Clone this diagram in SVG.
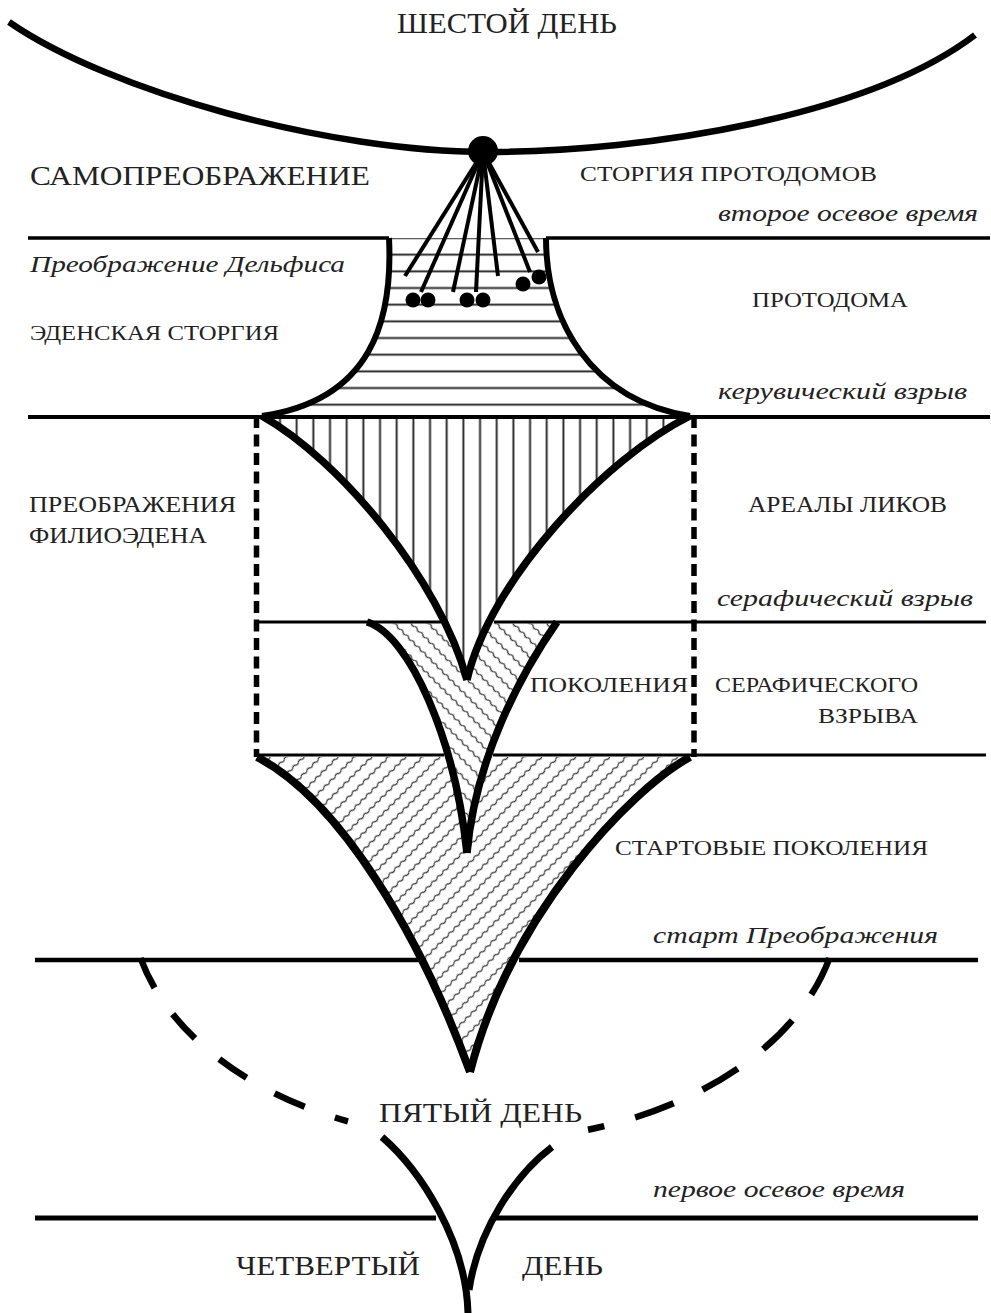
<svg xmlns="http://www.w3.org/2000/svg" width="991" height="1313" viewBox="0 0 991 1313">
<style>
.t{font-family:"Liberation Serif","DejaVu Serif",serif;fill:#222}
.i{font-style:italic}
.ln{fill:none;stroke:#000;stroke-linecap:butt}
.wh{fill:#fff}
</style>
<defs>
<pattern id="hatchH" patternUnits="userSpaceOnUse" x="0" y="229.67" width="20" height="16.67"><line x1="0" y1="8.33" x2="20" y2="8.33" stroke="#222" stroke-width="1.9"/></pattern>
<pattern id="hatchV" patternUnits="userSpaceOnUse" x="255" y="0" width="16.67" height="20"><line x1="8.33" y1="0" x2="8.33" y2="20" stroke="#222" stroke-width="1.9"/></pattern>
<pattern id="waveA" patternUnits="userSpaceOnUse" width="8" height="12" patternTransform="rotate(-45)"><path d="M0,6 Q2,4.4 4,6 T8,6" fill="none" stroke="#333" stroke-width="1.3"/></pattern>
<pattern id="waveB" patternUnits="userSpaceOnUse" width="8" height="12" patternTransform="rotate(45)"><path d="M0,6 Q2,4.4 4,6 T8,6" fill="none" stroke="#333" stroke-width="1.3"/></pattern>
</defs>
<rect width="991" height="1313" fill="#fff"/>

<g id="funnel-big-fill">
<path class="wh" d="M257,757 C340,800 420,935 470,1072 C510,915 630,790 690,757 Z"/>
<path fill="url(#waveA)" d="M257,757 C340,800 420,935 470,1072 C510,915 630,790 690,757 Z"/>
</g>
<g id="cusp-second-fill">
<path class="wh" d="M367,623.5 C410,636 455,740 467,853 C475,760 520,675 557,623.5 Z"/>
<path fill="url(#waveB)" d="M367,623.5 C410,636 455,740 467,853 C475,760 520,675 557,623.5 Z"/>
</g>
<g id="funnel-upper-fill">
<path class="wh" d="M389,238 C393,320 372,400 262,416 L690,416 C590,400 546,320 546,238 Z"/>
<path fill="url(#hatchH)" d="M389,238 C393,320 372,400 262,416 L690,416 C590,400 546,320 546,238 Z"/>
</g>
<g id="cusp-middle-fill">
<path class="wh" d="M262,417 C340,460 440,580 467,680 C490,580 605,458 690,417 Z"/>
<path fill="url(#hatchV)" d="M262,417 C340,460 440,580 467,680 C490,580 605,458 690,417 Z"/>
</g>

<g id="time-lines" class="ln">
<path stroke-width="3.5" d="M28,238 H389 M546,238 H990"/>
<path stroke-width="4" d="M28,417 H990"/>
<path stroke-width="3.2" d="M257,622 H441 M494,622 H986"/>
<path stroke-width="3.2" d="M257,755 H444 M493,755 H986"/>
<path stroke-width="4.5" d="M35,960 H421 M519,960 H978"/>
<path stroke-width="5" d="M35,1218 H436 M493,1218 H978"/>
</g>

<g id="dashed-frame" class="ln" stroke-width="5.5" stroke-dasharray="12 6.5">
<path d="M256.5,416 V757"/>
<path d="M694,416 V757"/>
</g>

<g id="funnel-big" class="ln" stroke-width="8">
<path d="M257,757 C340,800 420,935 470,1072"/>
<path d="M690,757 C630,790 510,915 470,1072"/>
</g>
<g id="cusp-second" class="ln" stroke-width="7.5">
<path d="M367,622 C410,635 455,740 467,853"/>
<path d="M557,622 C520,675 475,760 467,853"/>
</g>
<g id="cusp-middle" class="ln" stroke-width="7.5">
<path d="M262,416 C340,460 440,580 467,680"/>
<path d="M690,416 C605,458 490,580 467,680"/>
</g>
<g id="funnel-upper" class="ln" stroke-width="6">
<path d="M389,238 C393,320 372,400 262,416"/>
<path d="M546,238 C546,320 590,400 690,416"/>
</g>

<g id="top-arc">
<path class="ln" stroke-width="6.5" d="M9,22 C110,92 330,152 487,152 C650,152 870,115 975,35"/>
<circle cx="483" cy="151" r="15" fill="#000"/>
</g>

<g id="fan" class="ln" stroke-width="4">
<path d="M483,152 L405,276"/>
<path d="M483,152 L421,292"/>
<path d="M483,152 L453,292"/>
<path d="M483,152 L476,292"/>
<path d="M483,152 L498,276"/>
<path d="M483,152 L530,272"/>
<path d="M483,152 L538,252"/>
</g>
<g id="protodoma-dots" fill="#000">
<circle cx="413" cy="300" r="7.5"/>
<circle cx="428" cy="300" r="7.5"/>
<circle cx="467" cy="300" r="7.5"/>
<circle cx="483" cy="300" r="7.5"/>
<circle cx="523" cy="284" r="7.5"/>
<circle cx="539" cy="277" r="7.5"/>
</g>

<g id="dashed-arc" class="ln" stroke-width="6.5">
<path stroke-dasharray="33 32" d="M140.5,958 A355,240 0 0 0 348,1121.4"/>
<path stroke-dasharray="41 32" d="M829.5,958 A355,240 0 0 1 588,1129.7"/>
</g>

<g id="bottom-y" class="ln" stroke-width="7">
<path d="M382,1137 C420,1170 466,1240 468,1313"/>
<path d="M552,1147 C515,1175 478,1230 469,1290"/>
</g>

<g id="label-sixth-day"><text class="t" x="397" y="33" font-size="29" textLength="220" lengthAdjust="spacingAndGlyphs">ШЕСТОЙ ДЕНЬ</text></g>
<g id="label-self"><text class="t" x="30" y="185" font-size="28" textLength="340" lengthAdjust="spacingAndGlyphs">САМОПРЕОБРАЖЕНИЕ</text></g>
<g id="label-storgia-proto"><text class="t" x="580" y="181" font-size="22" textLength="297" lengthAdjust="spacingAndGlyphs">СТОРГИЯ ПРОТОДОМОВ</text></g>
<g id="label-axis2"><text class="t i" x="718" y="221" font-size="24" textLength="260" lengthAdjust="spacingAndGlyphs">второе осевое время</text></g>
<g id="label-delphis"><text class="t i" x="30" y="272" font-size="24" textLength="315" lengthAdjust="spacingAndGlyphs">Преображение Дельфиса</text></g>
<g id="label-protodoma"><text class="t" x="752" y="307" font-size="22" textLength="156" lengthAdjust="spacingAndGlyphs">ПРОТОДОМА</text></g>
<g id="label-eden"><text class="t" x="30" y="340" font-size="22" textLength="249" lengthAdjust="spacingAndGlyphs">ЭДЕНСКАЯ СТОРГИЯ</text></g>
<g id="label-cherub"><text class="t i" x="718" y="399" font-size="24" textLength="249" lengthAdjust="spacingAndGlyphs">керувический взрыв</text></g>
<g id="label-filioeden">
<text class="t" x="29" y="512" font-size="23" textLength="207" lengthAdjust="spacingAndGlyphs">ПРЕОБРАЖЕНИЯ</text>
<text class="t" x="29" y="543" font-size="23" textLength="178" lengthAdjust="spacingAndGlyphs">ФИЛИОЭДЕНА</text>
</g>
<g id="label-areals"><text class="t" x="748" y="512" font-size="23" textLength="199" lengthAdjust="spacingAndGlyphs">АРЕАЛЫ ЛИКОВ</text></g>
<g id="label-seraph"><text class="t i" x="717" y="606" font-size="24" textLength="256" lengthAdjust="spacingAndGlyphs">серафический взрыв</text></g>
<g id="label-generations-seraph">
<text class="t" x="530" y="692" font-size="22" textLength="158" lengthAdjust="spacingAndGlyphs">ПОКОЛЕНИЯ</text>
<text class="t" x="715" y="692" font-size="22" textLength="203" lengthAdjust="spacingAndGlyphs">СЕРАФИЧЕСКОГО</text>
<text class="t" x="818" y="723" font-size="22" textLength="100" lengthAdjust="spacingAndGlyphs">ВЗРЫВА</text>
</g>
<g id="label-start-generations"><text class="t" x="615" y="855" font-size="22" textLength="313" lengthAdjust="spacingAndGlyphs">СТАРТОВЫЕ ПОКОЛЕНИЯ</text></g>
<g id="label-start-transf"><text class="t i" x="653" y="943" font-size="24" textLength="285" lengthAdjust="spacingAndGlyphs">старт Преображения</text></g>
<g id="label-fifth-day"><text class="t" x="379" y="1122" font-size="28" textLength="203" lengthAdjust="spacingAndGlyphs">ПЯТЫЙ ДЕНЬ</text></g>
<g id="label-axis1"><text class="t i" x="653" y="1197" font-size="24" textLength="252" lengthAdjust="spacingAndGlyphs">первое осевое время</text></g>
<g id="label-fourth-day">
<text class="t" x="236" y="1275" font-size="28" textLength="184" lengthAdjust="spacingAndGlyphs">ЧЕТВЕРТЫЙ</text>
<text class="t" x="522" y="1275" font-size="28" textLength="81" lengthAdjust="spacingAndGlyphs">ДЕНЬ</text>
</g>
</svg>
